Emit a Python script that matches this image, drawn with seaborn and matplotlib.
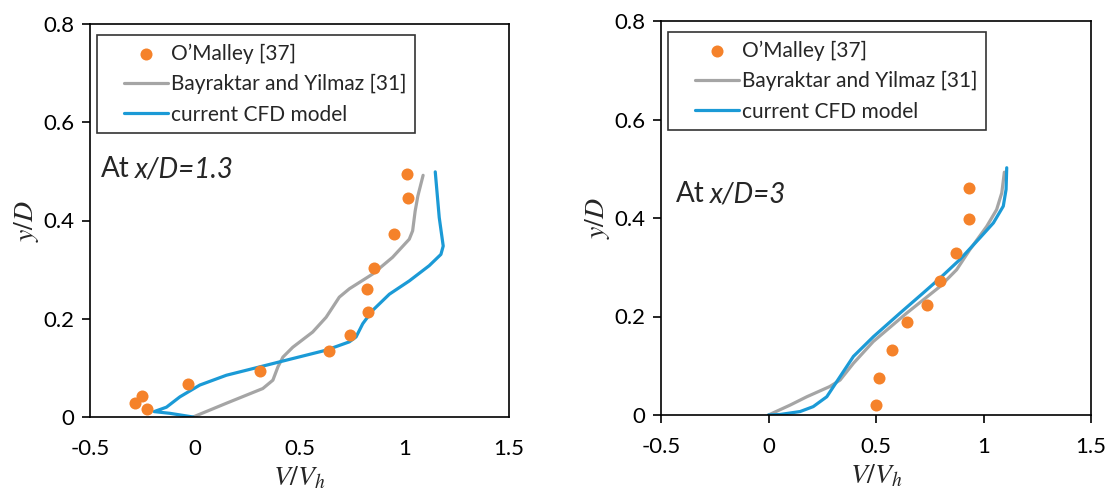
import matplotlib
matplotlib.use("Agg")
import matplotlib.pyplot as plt
from matplotlib.collections import PathCollection
from matplotlib.lines import Line2D
from matplotlib.legend_handler import HandlerLine2D, HandlerPathCollection
import seaborn as sns

# ---------------- Data ----------------
# x/D = 1.3
exp13_v = [1.011, 1.017, 0.952, 0.856, 0.822, 0.829, 0.741, 0.640, 0.310, -0.033, -0.252, -0.287, -0.229]
exp13_y = [0.494, 0.446, 0.372, 0.304, 0.261, 0.214, 0.167, 0.134, 0.093, 0.068, 0.043, 0.028, 0.016]

bay13_v = [1.090, 1.065, 1.052, 1.040, 1.024, 0.944, 0.849, 0.738, 0.690, 0.627, 0.563, 0.468,
           0.421, 0.397, 0.373, 0.325, 0.151, -0.008]
bay13_y = [0.492, 0.450, 0.419, 0.379, 0.362, 0.325, 0.291, 0.261, 0.244, 0.203, 0.173, 0.142,
           0.122, 0.102, 0.075, 0.058, 0.028, 0.0]

cfd13_v = [1.148, 1.167, 1.186, 1.175, 1.119, 1.024, 0.929, 0.849, 0.802, 0.770, 0.738, 0.627,
           0.468, 0.310, 0.151, 0.024, -0.071, -0.135, -0.194, -0.119, -0.008]
cfd13_y = [0.499, 0.406, 0.348, 0.331, 0.308, 0.277, 0.250, 0.217, 0.190, 0.163, 0.153, 0.136,
           0.119, 0.102, 0.085, 0.065, 0.041, 0.020, 0.011, 0.0075, 0.0]

# x/D = 3
exp3_v = [0.933, 0.933, 0.874, 0.798, 0.736, 0.646, 0.574, 0.514, 0.500]
exp3_y = [0.461, 0.397, 0.329, 0.273, 0.223, 0.188, 0.132, 0.075, 0.020]

bay3_v = [1.097, 1.085, 1.061, 1.015, 0.937, 0.875, 0.798, 0.643, 0.487, 0.395, 0.333, 0.286,
          0.178, 0.100, 0.0]
bay3_y = [0.493, 0.451, 0.417, 0.383, 0.336, 0.295, 0.261, 0.207, 0.149, 0.105, 0.071, 0.058,
          0.037, 0.020, 0.0]

cfd3_v = [1.108, 1.105, 1.092, 1.046, 0.984, 0.891, 0.798, 0.720, 0.612, 0.488, 0.395, 0.333,
          0.271, 0.208, 0.147, 0.053, 0.0]
cfd3_y = [0.502, 0.458, 0.424, 0.390, 0.360, 0.316, 0.278, 0.248, 0.207, 0.159, 0.119, 0.078,
          0.037, 0.017, 0.007, 0.001, 0.0]

x_ticks = [-0.5, 0, 0.5, 1, 1.5]
x_labels = ["-0.5", "0", "0.5", "1", "1.5"]
y_ticks = [0, 0.2, 0.4, 0.6, 0.8]
y_labels = ["0", "0.2", "0.4", "0.6", "0.8"]

c_exp = "#f5822a"
c_bay = "#a5a5a5"
c_cfd = "#1b9ad6"

# ---------------- Style ----------------
sns.set_style("white")
plt.rcParams["font.family"] = ["Lato", "DejaVu Sans"]
plt.rcParams["axes.edgecolor"] = "black"
plt.rcParams["axes.linewidth"] = 1.2

fig = plt.figure(figsize=(11.11, 4.93), dpi=100)
ax1 = fig.add_axes([90 / 1111, 76 / 493, 419 / 1111, 393 / 493])
ax2 = fig.add_axes([661 / 1111, 78 / 493, 430 / 1111, 394 / 493])


def draw_panel(ax, ev, ey, bv, by, cv, cy, title, show_xticks):
    sns.scatterplot(x=ev, y=ey, ax=ax, color=c_exp, s=75, linewidth=0,
                    label="O\u2019Malley [37]", zorder=3)
    sns.lineplot(x=bv, y=by, ax=ax, color=c_bay, lw=2.3, sort=False,
                 estimator=None, label="Bayraktar and Yilmaz [31]")
    sns.lineplot(x=cv, y=cy, ax=ax, color=c_cfd, lw=2.3, sort=False,
                 estimator=None, label="current CFD model")

    ax.set_xlim(-0.5, 1.5)
    ax.set_ylim(0, 0.8)
    ax.set_xticks(x_ticks)
    ax.set_xticklabels(x_labels)
    ax.set_yticks(y_ticks)
    ax.set_yticklabels(y_labels)
    ax.tick_params(axis="both", labelsize=16, colors="black")
    ax.tick_params(axis="y", direction="out", length=6, width=1.2, left=True, pad=5)
    if show_xticks:
        ax.tick_params(axis="x", direction="out", length=6, width=1.2, bottom=True, pad=10)
    else:
        ax.tick_params(axis="x", length=0, pad=16)

    ax.set_xlabel("$V/V_h$", fontsize=20, math_fontfamily="stix", labelpad=4)
    ax.set_ylabel("$y/D$", fontsize=20, math_fontfamily="stix", labelpad=2)

    hmap = {PathCollection: HandlerPathCollection(xpad=0.9),
            Line2D: HandlerLine2D(xpad=0.9)}
    leg = ax.legend(loc="upper left", bbox_to_anchor=(0.017, 0.972), borderaxespad=0,
                    fontsize=15, frameon=True, fancybox=False, edgecolor="black",
                    handlelength=3.0, handletextpad=0.15, labelspacing=0.5,
                    borderpad=0.4, handler_map=hmap)
    leg.get_frame().set_linewidth(1.2)

    t = ax.text(title[0], title[1], "At", fontsize=20, va="center", ha="left")
    ax.annotate(title[2], xy=(1, 0), xycoords=t, xytext=(4, 0), textcoords="offset points",
                fontsize=20, style="italic", va="bottom", ha="left")


draw_panel(ax1, exp13_v, exp13_y, bay13_v, bay13_y, cfd13_v, cfd13_y,
           (-0.45, 0.504, "x/D=1.3"), False)
draw_panel(ax2, exp3_v, exp3_y, bay3_v, bay3_y, cfd3_v, cfd3_y,
           (-0.43, 0.448, "x/D=3"), True)

fig.savefig("out.png", dpi=100)
